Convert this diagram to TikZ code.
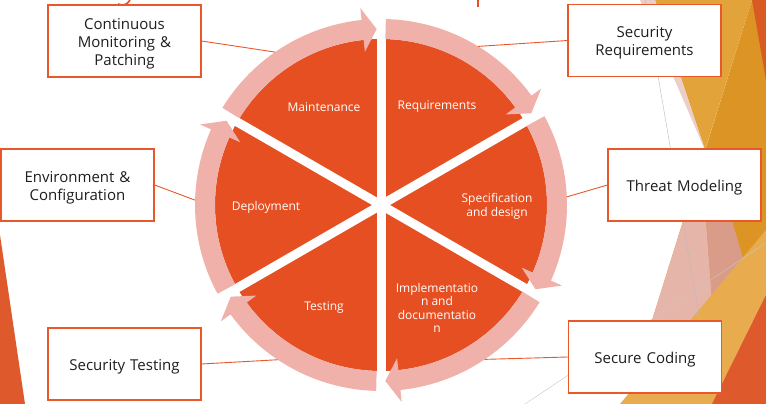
\documentclass[tikz,border=0pt]{standalone}
\usepackage{fontspec}
\setmainfont{Open Sans}
\usetikzlibrary{calc}
\definecolor{segorange}{HTML}{E64F22}
\definecolor{ringpink}{HTML}{F0B1AA}
\definecolor{lineorange}{HTML}{E8582B}
\definecolor{textdark}{HTML}{1E1E1E}
\definecolor{golddark}{HTML}{DC9424}
\definecolor{goldlight}{HTML}{E2A33A}
\definecolor{paleblush}{HTML}{ECCEC7}
\definecolor{blush}{HTML}{E6B5A9}
\definecolor{rose}{HTML}{D99C89}
\definecolor{sand}{HTML}{E8AC4E}
\definecolor{rust}{HTML}{DE5A2C}
\definecolor{ember}{HTML}{D95A22}

\begin{document}
\begin{tikzpicture}[x=1pt, y=1pt,
  note/.style={draw=lineorange, line width=1.1pt, fill=white, minimum width=153pt, minimum height=72pt, inner sep=0pt},
  notetext/.style={text width=145pt, inner sep=0pt, align=center, text=textdark, font=\fontsize{15}{18}\selectfont},
  seg/.style={text=white, align=center, font=\fontsize{12}{13.3}\selectfont},
  link/.style={draw=lineorange, line width=0.9pt},
  ring/.style={fill=ringpink}]
\useasboundingbox (0,0) rectangle (766,404);
\fill[white] (0,0) rectangle (766,404);
% background facets
\fill[golddark] (752,404) -- (766,404) -- (766,0) -- (626,0) -- cycle;
\fill[goldlight] (655,404) -- (752,404) -- (705,254) -- cycle;
\fill[paleblush] (640,404) -- (655,404) -- (705,254) -- cycle;
\fill[blush] (696,224) -- (703,224) -- (712,104) -- (683,74) -- (649,74) -- cycle;
\fill[rose] (703,224) -- (720,224) -- (743,146) -- (712,104) -- cycle;
\fill[sand] (620,0) -- (766,174) -- (766,0) -- cycle;
\fill[rust] (766,109) -- (766,0) -- (712,0) -- cycle;
\fill[ember] (752,404) -- (766,404) -- (766,324) -- cycle;
\fill[rust] (0,169) -- (0,0) -- (25,0) -- cycle;
\draw[gray!55, line width=0.4pt] (645,404) -- (705,54);
\draw[gray!45, line width=0.4pt] (766,161) -- (525,0);
% cut-off title
\draw[segorange, line width=1.6pt] (130,404) .. controls (127,399) and (123,398) .. (118,400);
\draw[segorange, line width=2pt] (478,404) -- (478,397);

% wheel
\coordinate (C) at (381,199);
\fill[segorange] (C) circle[radius=166];
\foreach \a in {30,90,...,330} \draw[white, line width=9pt] (C) -- ++(\a:200);
\begin{scope}[shift={(C)}]
\foreach \a in {150,90,...,-150}{
  \pgfmathsetmacro\h{\a-54}
  \pgfmathsetmacro\t{\a-58.6}
  \fill[ring] (\a-1.5:186) arc[start angle=\a-1.5, end angle=\h, radius=186] -- (\h:198) -- (\t:176) -- (\h:154) -- (\h:166) arc[start angle=\h, end angle=\a-1.5, radius=166] -- cycle;
}
\end{scope}

\node[seg] (maint) at (324,297) {Maintenance};
\node[seg] (reqs) at (437,297) {Requirements};
\node[seg] (spec) at (497,197.5) {Specification\\and design};
\node[seg] (impl) at (437,96) {Implementatio\\n and\\documentatio\\n};
\node[seg] (test) at (324,96) {Testing};
\node[seg] (deploy) at (266,197) {Deployment};

% callouts
\node[note] (mon) at (124.5,363) {};
\node[note] (env) at (77.5,219) {};
\node[note] (sectest) at (124.5,40) {};
\node[note] (secreq) at (644.5,363.5) {};
\node[note] (threat) at (684.5,219) {};
\node[note] (code) at (645,47) {};
\node[notetext] (montxt) at ([yshift=-2.5pt]mon.center) {Continuous\\Monitoring \&\\Patching};
\node[notetext] (envtxt) at ([yshift=-2.5pt]env.center) {Environment \&\\Configuration};
\node[notetext] (sectesttxt) at ([yshift=-2.5pt]sectest.center) {Security Testing};
\node[notetext] (secreqtxt) at ([yshift=-2.5pt]secreq.center) {Security\\Requirements};
\node[notetext] (threattxt) at ([yshift=-2.5pt]threat.center) {Threat Modeling};
\node[notetext] (codetxt) at ([yshift=-2.5pt]code.center) {Secure Coding};

\coordinate (pmon) at ($(C)+(124.7:186)$);
\coordinate (penv) at ($(C)+(178.5:186)$);
\coordinate (ptest) at ($(C)+(-123.7:186)$);
\coordinate (preq) at ($(C)+(58.5:186)$);
\coordinate (pthreat) at ($(C)+(2.5:186)$);
\coordinate (pcode) at ($(C)+(-56.1:186)$);
\draw[link] (mon.east) -- (pmon);
\draw[link] (env.east) -- (penv);
\draw[link] (sectest.east) -- (ptest);
\draw[link] (secreq.west) -- (preq);
\draw[link] (threat.west) -- (pthreat);
\draw[link] (code.west) -- (pcode);
\end{tikzpicture}
\end{document}
